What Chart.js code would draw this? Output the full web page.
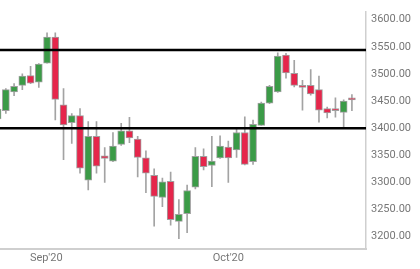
<!DOCTYPE html>
<html lang="en">

<head>
    <meta charset="UTF-8">
    <script src="https://cdn.jsdelivr.net/npm/chart.js"></script>
    <title>Candles</title>
    <style>
        body { margin: 0; background: #fff; }
        #wrap { width: 420px; height: 269px; }
    </style>
</head>

<body>
    <div id="wrap"><canvas id="chart" width="420" height="269"></canvas></div>
    <script>
        // daily candles, index 0 is cut off by the left edge
        const open  = [3417, 3432, 3467, 3479, 3497, 3485, 3520, 3568, 3443, 3410, 3423, 3304, 3385, 3349, 3339, 3370, 3395, 3380, 3345, 3313, 3272, 3302, 3228, 3242, 3291, 3348, 3331, 3345, 3365, 3360, 3392, 3338, 3405, 3446, 3467, 3535, 3501, 3479, 3479, 3471, 3436, 3436, 3429, 3456]
        const close = [3435, 3471, 3477, 3496, 3483, 3518, 3568, 3453, 3406, 3423, 3326, 3385, 3330, 3344, 3367, 3395, 3382, 3346, 3317, 3274, 3301, 3231, 3241, 3285, 3348, 3329, 3339, 3367, 3345, 3392, 3333, 3407, 3446, 3477, 3533, 3502, 3479, 3475, 3463, 3433, 3428, 3432, 3450, 3452]
        const high  = [3440, 3473, 3482, 3500, 3514, 3519, 3576, 3576, 3473, 3427, 3436, 3412, 3412, 3364, 3392, 3409, 3420, 3385, 3358, 3325, 3308, 3319, 3268, 3295, 3364, 3362, 3385, 3386, 3376, 3398, 3421, 3415, 3448, 3479, 3539, 3538, 3525, 3488, 3508, 3496, 3439, 3456, 3452, 3462]
        const low   = [3412, 3427, 3460, 3471, 3482, 3475, 3520, 3415, 3342, 3372, 3317, 3286, 3317, 3300, 3338, 3368, 3373, 3310, 3281, 3219, 3255, 3221, 3196, 3207, 3288, 3323, 3292, 3344, 3300, 3346, 3332, 3333, 3405, 3445, 3466, 3492, 3476, 3433, 3461, 3411, 3419, 3420, 3402, 3432]

        // support / resistance levels
        const levels = [3544, 3400]

        const xTickPos = [5.9, 28]
        const xTickLabels = ["Sep'20", "Oct'20"]
        const yTicks = [3200, 3250, 3300, 3350, 3400, 3450, 3500, 3550, 3600]

        const xMin = 0.29
        const xMax = 44.71

        const UP = '#3b9b47'
        const DOWN = '#e5264b'

        const wicks = open.map((o, i) => ({ x: i, y: [low[i], high[i]] }))
        const bodies = open.map((o, i) => ({ x: i, y: [o, close[i]] }))
        const bodyColors = open.map((o, i) => close[i] >= o ? UP : DOWN)

        const levelSets = levels.map(v => ({
            type: 'line',
            data: [{ x: xMin, y: v }, { x: xMax, y: v }],
            borderColor: '#000',
            borderWidth: 2.5,
            pointRadius: 0,
            order: 0
        }))

        new Chart(document.getElementById('chart'), {
            type: 'bar',
            data: {
                datasets: [
                    ...levelSets,
                    {
                        data: bodies,
                        backgroundColor: bodyColors,
                        borderColor: '#a0a0a0',
                        borderWidth: 1,
                        borderSkipped: false,
                        barThickness: 7,
                        grouped: false,
                        order: 1
                    },
                    {
                        data: wicks,
                        backgroundColor: '#a3a3a3',
                        barThickness: 1,
                        grouped: false,
                        order: 2
                    }
                ]
            },
            options: {
                responsive: false,
                animation: false,
                layout: { padding: 0 },
                plugins: {
                    legend: { display: false },
                    tooltip: { enabled: false }
                },
                scales: {
                    x: {
                        type: 'linear',
                        offset: false,
                        min: xMin,
                        max: xMax,
                        grid: { display: false, drawTicks: false },
                        border: { display: true, color: '#cfcfcf', width: 2 },
                        afterBuildTicks: (scale) => {
                            scale.ticks = xTickPos.map(v => ({ value: v }))
                        },
                        afterFit: (scale) => { scale.height = 20 },
                        ticks: {
                            autoSkip: false,
                            maxRotation: 0,
                            padding: 3,
                            color: '#777',
                            font: { family: 'Roboto', size: 11 },
                            callback: (v, i) => xTickLabels[i]
                        }
                    },
                    y: {
                        position: 'right',
                        min: 3177,
                        max: 3615,
                        grid: { display: false, drawTicks: false },
                        border: { display: true, color: '#cfcfcf', width: 1.5 },
                        afterBuildTicks: (scale) => {
                            scale.ticks = yTicks.map(v => ({ value: v }))
                        },
                        afterFit: (scale) => { scale.width = 54 },
                        ticks: {
                            padding: 5,
                            color: '#777',
                            font: { family: 'Roboto', size: 11 },
                            callback: (v) => v.toFixed(2)
                        }
                    }
                }
            }
        })
    </script>
</body>

</html>
